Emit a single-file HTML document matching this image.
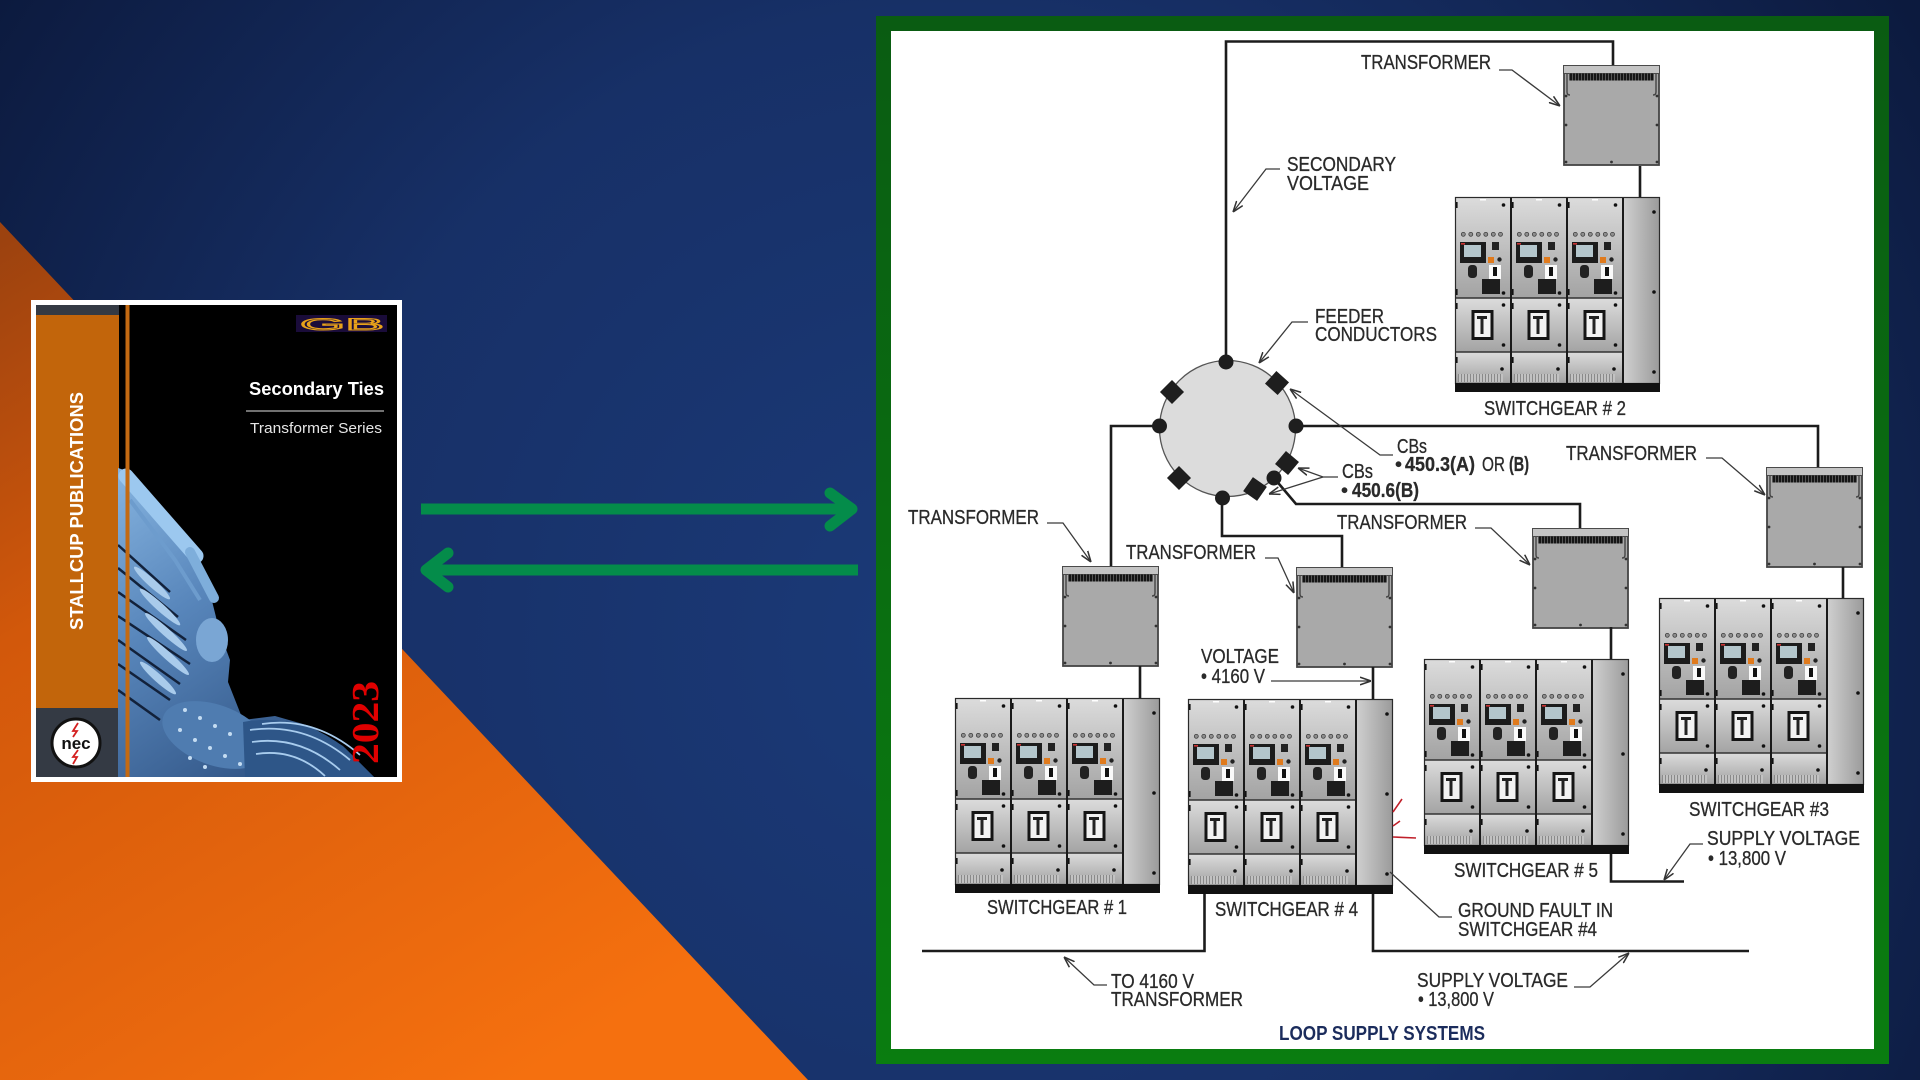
<!DOCTYPE html>
<html><head><meta charset="utf-8">
<style>
html,body{margin:0;padding:0;width:1920px;height:1080px;overflow:hidden;background:#142a5c}
svg{display:block}
text{font-family:"Liberation Sans",Arial,sans-serif}
.l{font-size:20px;fill:#2a2a2a;stroke:#2a2a2a;stroke-width:0.3}
</style></head><body>
<svg width="1920" height="1080" viewBox="0 0 1920 1080" xmlns="http://www.w3.org/2000/svg">
<defs>
 <radialGradient id="bg" cx="950" cy="640" r="1150" gradientUnits="userSpaceOnUse">
  <stop offset="0" stop-color="#1b3a78"/>
  <stop offset="0.55" stop-color="#173067"/>
  <stop offset="1" stop-color="#0c1a3e"/>
 </radialGradient>
 <linearGradient id="or" x1="0" y1="240" x2="520" y2="1080" gradientUnits="userSpaceOnUse">
  <stop offset="0" stop-color="#9c420f"/>
  <stop offset="0.35" stop-color="#d2580b"/>
  <stop offset="1" stop-color="#f5700f"/>
 </linearGradient>
 <linearGradient id="gf" x1="0" y1="0" x2="0" y2="1">
  <stop offset="0" stop-color="#0a5c12"/>
  <stop offset="1" stop-color="#0a7d10"/>
 </linearGradient>
 <linearGradient id="pg" x1="0" y1="0" x2="0" y2="1">
  <stop offset="0" stop-color="#dcdcdc"/>
  <stop offset="1" stop-color="#a3a3a3"/>
 </linearGradient>
 <linearGradient id="pr" x1="0" y1="0" x2="1" y2="0">
  <stop offset="0" stop-color="#d0d0d0"/>
  <stop offset="1" stop-color="#9a9a9a"/>
 </linearGradient>
 <linearGradient id="bl" x1="118" y1="470" x2="330" y2="777" gradientUnits="userSpaceOnUse">
  <stop offset="0" stop-color="#86b4e0"/>
  <stop offset="0.4" stop-color="#5886bb"/>
  <stop offset="1" stop-color="#2a4c7c"/>
 </linearGradient>
 <pattern id="vent" width="3" height="10" patternUnits="userSpaceOnUse">
  <rect width="3" height="10" fill="#c2c2c2"/><rect width="1" height="10" fill="#8a8a8a"/>
 </pattern>
 <pattern id="tv" width="3" height="8" patternUnits="userSpaceOnUse">
  <rect width="3" height="8" fill="#151515"/><rect width="1" height="8" fill="#555"/>
 </pattern>
 <marker id="ah" viewBox="0 0 10 8" refX="10" refY="4" markerWidth="11" markerHeight="9" markerUnits="userSpaceOnUse" orient="auto">
  <path d="M0,0.5 L10,4 L0,7.5" fill="none" stroke="#333" stroke-width="1.4"/>
 </marker>

 <g id="sec">
  <rect x="0" y="0" width="56" height="101" fill="url(#pg)"/>
  <rect x="0" y="101" width="56" height="54" fill="url(#pg)"/>
  <rect x="0" y="155" width="56" height="31" fill="url(#pg)"/>
  <path d="M0,101H56M0,155H56" stroke="#333" stroke-width="1.5"/>
  <rect x="25" y="2" width="6" height="1.5" fill="#fff"/>
  <g fill="#111">
   <circle cx="48.5" cy="8" r="1.8"/><circle cx="48.5" cy="96" r="1.8"/>
   <circle cx="48.5" cy="108" r="1.8"/><circle cx="48.5" cy="148" r="1.8"/>
   <circle cx="47" cy="172" r="1.8"/>
   <rect x="1" y="5" width="1.6" height="6"/><rect x="1" y="92" width="1.6" height="6"/>
   <rect x="1" y="106" width="1.6" height="6"/><rect x="1" y="160" width="1.6" height="6"/>
  </g>
  <g fill="#8e8e8e" stroke="#333" stroke-width="0.7">
   <circle cx="8.3" cy="37.3" r="2"/><circle cx="15.8" cy="37.3" r="2"/><circle cx="23.3" cy="37.3" r="2"/>
   <circle cx="30.8" cy="37.3" r="2"/><circle cx="38.3" cy="37.3" r="2"/><circle cx="45.5" cy="37.3" r="2"/>
  </g>
  <rect x="5" y="45" width="26" height="21" fill="#1c1c1c"/>
  <rect x="9" y="48" width="17" height="12" fill="#b4c6cc"/>
  <rect x="6" y="46" width="4" height="1.6" fill="#c33"/>
  <rect x="37" y="45" width="7" height="8" fill="#222"/>
  <rect x="33" y="60" width="6" height="6" fill="#e07a1c"/>
  <circle cx="44.5" cy="62.5" r="2.2" fill="#222"/>
  <rect x="13" y="68" width="9" height="13" rx="3.5" fill="#222"/>
  <rect x="34" y="68" width="12" height="14" fill="#fafafa"/>
  <rect x="38" y="70" width="4" height="9" fill="#111"/>
  <rect x="27" y="82" width="18" height="15" fill="#1d1d1d"/>
  <rect x="16.5" y="113" width="22" height="30" fill="#151515"/>
  <rect x="19.5" y="116" width="16" height="24" fill="#f2f2f2"/>
  <path d="M22,119h10v3h-3.5v15h-3v-15h-3.5z" fill="#222"/>
  <rect x="3" y="177" width="45" height="8" fill="url(#vent)"/>
 </g>

 <g id="sg">
  <use href="#sec" x="0" y="0"/>
  <use href="#sec" x="56" y="0"/>
  <use href="#sec" x="112" y="0"/>
  <rect x="168" y="0" width="37" height="187" fill="url(#pr)"/>
  <g fill="#111">
   <circle cx="199" cy="15" r="1.8"/><circle cx="199" cy="95" r="1.8"/><circle cx="199" cy="175" r="1.8"/>
  </g>
  <path d="M56,0V186M112,0V186M168,0V186" stroke="#1a1a1a" stroke-width="2"/>
  <rect x="0.5" y="0.5" width="204" height="186" fill="none" stroke="#2a2a2a" stroke-width="1.2"/>
  <rect x="0" y="186" width="205" height="9" fill="#111"/>
 </g>

 <g id="tr">
  <rect x="1" y="6" width="95" height="94" fill="#a9a9a9" stroke="#444" stroke-width="1.8"/>
  <rect x="0.5" y="0.5" width="96" height="8" fill="#c4c4c4" stroke="#4a4a4a" stroke-width="1"/>
  <rect x="6" y="8.5" width="85" height="7" fill="url(#tv)"/>
  <path d="M4,9V27Q4,30 7,30M93,9V27Q93,30 90,30" stroke="#444" stroke-width="1.4" fill="none"/>
  <g fill="#333">
   <circle cx="3" cy="31" r="1.4"/><circle cx="3" cy="60" r="1.4"/><circle cx="3" cy="97" r="1.4"/>
   <circle cx="94" cy="31" r="1.4"/><circle cx="94" cy="60" r="1.4"/><circle cx="94" cy="97" r="1.4"/>
   <circle cx="48.5" cy="97" r="1.4"/>
  </g>
 </g>
</defs>

<!-- background -->
<rect width="1920" height="1080" fill="url(#bg)"/>
<polygon points="0,222 808,1080 0,1080" fill="url(#or)"/>

<!-- green arrows -->
<g stroke="#048c4a" stroke-width="11" fill="none">
 <path d="M421,509H852"/>
 <path d="M830,493L852,509L830,526" stroke-linecap="round" stroke-linejoin="round"/>
 <path d="M858,570H426"/>
 <path d="M448,553L426,570L448,587" stroke-linecap="round" stroke-linejoin="round"/>
</g>

<!-- cover -->
<rect x="31" y="300" width="371" height="482" fill="#ffffff"/>
<rect x="36" y="305" width="361" height="472" fill="#000"/>
<rect x="36" y="305" width="83" height="472" fill="#343a44"/>
<rect x="36" y="315" width="83" height="393" fill="#c2650b"/>
<clipPath id="cc"><rect x="118" y="305" width="279" height="472"/></clipPath>
<g clip-path="url(#cc)">
 <polygon points="118,468 130,472 160,508 182,537 210,593 220,633 230,660 228,682 243,720 275,716 310,726 343,746 374,777 118,777" fill="url(#bl)"/>
 <!-- tubes -->
 <path d="M126,476 L196,556" stroke="#9cc8ef" stroke-width="15" stroke-linecap="round"/>
 <path d="M190,552 L214,598" stroke="#7eaedb" stroke-width="10" stroke-linecap="round"/>
 <path d="M130,500 L175,560 L200,600" stroke="#6d9ccd" stroke-width="4" fill="none"/>
 <!-- fins -->
 <g stroke="#12213a" stroke-width="2.5" fill="none">
  <path d="M118,545 L170,592"/><path d="M118,568 L178,617"/><path d="M118,592 L186,640"/>
  <path d="M118,616 L190,664"/><path d="M118,640 L180,684"/><path d="M118,664 L170,700"/>
  <path d="M118,690 L160,720"/>
 </g>
 <g fill="#a9cbeb">
  <ellipse cx="152" cy="583" rx="24" ry="4" transform="rotate(42 152 583)"/>
  <ellipse cx="160" cy="607" rx="27" ry="4" transform="rotate(42 160 607)"/>
  <ellipse cx="166" cy="632" rx="28" ry="4" transform="rotate(42 166 632)"/>
  <ellipse cx="168" cy="656" rx="28" ry="4" transform="rotate(42 168 656)"/>
  <ellipse cx="158" cy="678" rx="24" ry="4" transform="rotate(42 158 678)"/>
 </g>
 <ellipse cx="212" cy="640" rx="16" ry="22" fill="#7aa6d4"/>
 <!-- studded band -->
 <ellipse cx="215" cy="735" rx="55" ry="30" transform="rotate(20 215 735)" fill="#4f7cb0"/>
 <g fill="#c4dcf2">
  <circle cx="185" cy="710" r="2"/><circle cx="200" cy="718" r="2"/><circle cx="215" cy="726" r="2"/>
  <circle cx="230" cy="734" r="2"/><circle cx="180" cy="730" r="2"/><circle cx="195" cy="740" r="2"/>
  <circle cx="210" cy="748" r="2"/><circle cx="225" cy="756" r="2"/><circle cx="240" cy="764" r="2"/>
  <circle cx="190" cy="758" r="2"/><circle cx="205" cy="767" r="2"/>
 </g>
 <!-- cables -->
 <path d="M243,722 Q300,712 345,748 L374,777 L245,777 Z" fill="#2e5688"/>
 <g stroke="#a8ccee" stroke-width="1.8" fill="none">
  <path d="M250,730 Q305,722 350,760"/><path d="M252,742 Q300,735 340,770"/>
  <path d="M256,754 Q295,748 325,776"/><path d="M262,724 Q315,716 360,755"/>
 </g>
</g>
<rect x="125.5" y="305" width="4" height="472" fill="#c46a12"/>
<!-- GB logo -->
<rect x="296" y="315" width="91" height="17" fill="#1a0c3a"/>
<text x="300" y="330" font-size="17" textLength="84" lengthAdjust="spacingAndGlyphs" fill="none" stroke="#e8a21a" stroke-width="1">GB</text>
<text x="384" y="395" font-size="18.5" font-weight="bold" fill="#fff" text-anchor="end" textLength="135" lengthAdjust="spacingAndGlyphs">Secondary Ties</text>
<line x1="246" y1="411" x2="384" y2="411" stroke="#b5b5b5" stroke-width="1.3"/>
<text x="382" y="433" font-size="14.5" fill="#e6e6e6" text-anchor="end" textLength="132" lengthAdjust="spacingAndGlyphs">Transformer Series</text>
<text transform="translate(83,630) rotate(-90)" font-size="18" font-weight="bold" fill="#fff" textLength="238" lengthAdjust="spacingAndGlyphs">STALLCUP PUBLICATIONS</text>
<text transform="translate(378,764) rotate(-90)" font-size="38" font-weight="bold" fill="#e00000" textLength="83" lengthAdjust="spacingAndGlyphs" style="font-family:'Liberation Serif',serif">2023</text>
<!-- nec logo -->
<circle cx="76" cy="743" r="24" fill="#fff" stroke="#111" stroke-width="3"/>
<text x="76" y="749" font-size="17" fill="#111" text-anchor="middle" font-weight="bold">nec</text>
<path d="M78,723 L73,731 L77,731 L73,737" stroke="#d42020" stroke-width="1.8" fill="none"/>
<path d="M78,750 L73,757 L77,757 L73,764" stroke="#d42020" stroke-width="1.8" fill="none"/>

<!-- diagram frame -->
<rect x="876" y="16" width="1013" height="1048" fill="url(#gf)"/>
<rect x="891" y="31" width="983" height="1018" fill="#ffffff"/>

<!-- equipment -->
<use href="#tr" x="1563" y="65"/>
<use href="#tr" x="1062" y="566"/>
<use href="#tr" x="1296" y="567"/>
<use href="#tr" x="1532" y="528"/>
<use href="#tr" x="1766" y="467"/>
<use href="#sg" x="1455" y="197"/>
<use href="#sg" x="955" y="698"/>
<use href="#sg" x="1188" y="699"/>
<use href="#sg" x="1424" y="659"/>
<use href="#sg" x="1659" y="598"/>

<!-- wires -->
<g stroke="#1c1c1c" stroke-width="2.6" fill="none">
 <path d="M1226,362V41.5H1613V65"/>
 <path d="M1159,426H1111V566"/>
 <path d="M1296,426H1818V467"/>
 <path d="M1222,498V536H1342V567"/>
 <path d="M1274,478L1296,504H1580V528"/>
 <path d="M1640,166V197"/>
 <path d="M1140,666V698"/>
 <path d="M1373,667V699"/>
 <path d="M1611,627V659"/>
 <path d="M1843,567V598"/>
 <path d="M1204.5,894V951H922"/>
 <path d="M1373,894V951H1749"/>
 <path d="M1611,854V881.5H1684"/>
</g>

<!-- ring bus -->
<circle cx="1227.5" cy="428.5" r="68" fill="#dcdcdc" stroke="#555" stroke-width="1.3"/>
<g fill="#1e1e1e">
 <circle cx="1226" cy="362" r="7.5"/>
 <circle cx="1159.5" cy="426" r="7.5"/>
 <circle cx="1296" cy="426" r="7.5"/>
 <circle cx="1222.5" cy="498" r="7.5"/>
 <circle cx="1274" cy="478" r="7.5"/>
 <rect x="-8.5" y="-8.5" width="17" height="17" transform="translate(1172,392) rotate(45)"/>
 <rect x="-8.5" y="-8.5" width="17" height="17" transform="translate(1277,383) rotate(42)"/>
 <rect x="-8.5" y="-8.5" width="17" height="17" transform="translate(1287,463) rotate(40)"/>
 <rect x="-8.5" y="-8.5" width="17" height="17" transform="translate(1255,489) rotate(35)"/>
 <rect x="-8.5" y="-8.5" width="17" height="17" transform="translate(1179,478) rotate(45)"/>
</g>

<!-- red fault marks -->
<path d="M1393,812L1402,799M1393,837L1416,838M1393,826L1400,821" stroke="#c0202a" stroke-width="1.6" fill="none"/>

<!-- leaders -->
<g stroke="#3a3a3a" stroke-width="1.3" fill="none">
 <polyline points="1499,70 1512,70 1560,106" marker-end="url(#ah)"/>
 <polyline points="1280,169 1266,169 1233,212" marker-end="url(#ah)"/>
 <polyline points="1308,322 1292,322 1259,363" marker-end="url(#ah)"/>
 <polyline points="1393,455 1380,455 1290,389" marker-end="url(#ah)"/>
 <polyline points="1338,477 1323,477 1298,468" marker-end="url(#ah)"/>
 <polyline points="1323,477 1269,494" marker-end="url(#ah)"/>
 <polyline points="1706,458 1722,458 1765,495" marker-end="url(#ah)"/>
 <polyline points="1047,523 1063,523 1091,562" marker-end="url(#ah)"/>
 <polyline points="1265,558 1278,558 1294,593" marker-end="url(#ah)"/>
 <polyline points="1475,528 1491,528 1530,565" marker-end="url(#ah)"/>
 <polyline points="1271,681 1371,681" marker-end="url(#ah)"/>
 <polyline points="1703,844 1690,844 1664,880" marker-end="url(#ah)"/>
 <polyline points="1452,917 1439,917 1390,872"/>
 <polyline points="1107,985 1094,985 1064,957" marker-end="url(#ah)"/>
 <polyline points="1574,987 1590,987 1629,953" marker-end="url(#ah)"/>
</g>

<!-- labels -->
<g>
 <text class="l" x="1361" y="69" textLength="130" lengthAdjust="spacingAndGlyphs">TRANSFORMER</text>
 <text class="l" x="1287" y="171" textLength="109" lengthAdjust="spacingAndGlyphs">SECONDARY</text>
 <text class="l" x="1287" y="190" textLength="82" lengthAdjust="spacingAndGlyphs">VOLTAGE</text>
 <text class="l" x="1315" y="323" textLength="69" lengthAdjust="spacingAndGlyphs">FEEDER</text>
 <text class="l" x="1315" y="341" textLength="122" lengthAdjust="spacingAndGlyphs">CONDUCTORS</text>
 <text class="l" x="1484" y="415" textLength="142" lengthAdjust="spacingAndGlyphs">SWITCHGEAR # 2</text>
 <text class="l" x="1397" y="453" textLength="30" lengthAdjust="spacingAndGlyphs">CBs</text>
 <text class="l" x="1395" y="471">•</text>
 <text class="l" x="1405" y="471" font-weight="bold" textLength="70" lengthAdjust="spacingAndGlyphs">450.3(A)</text>
 <text class="l" x="1482" y="471" textLength="23" lengthAdjust="spacingAndGlyphs">OR</text>
 <text class="l" x="1509" y="471" font-weight="bold" textLength="20" lengthAdjust="spacingAndGlyphs">(B)</text>
 <text class="l" x="1342" y="478" textLength="31" lengthAdjust="spacingAndGlyphs">CBs</text>
 <text class="l" x="1341" y="497">•</text>
 <text class="l" x="1352" y="497" font-weight="bold" textLength="67" lengthAdjust="spacingAndGlyphs">450.6(B)</text>
 <text class="l" x="1566" y="460" textLength="131" lengthAdjust="spacingAndGlyphs">TRANSFORMER</text>
 <text class="l" x="908" y="524" textLength="131" lengthAdjust="spacingAndGlyphs">TRANSFORMER</text>
 <text class="l" x="1337" y="529" textLength="130" lengthAdjust="spacingAndGlyphs">TRANSFORMER</text>
 <text class="l" x="1126" y="559" textLength="130" lengthAdjust="spacingAndGlyphs">TRANSFORMER</text>
 <text class="l" x="1201" y="663" textLength="78" lengthAdjust="spacingAndGlyphs">VOLTAGE</text>
 <text class="l" x="1201" y="683" textLength="64" lengthAdjust="spacingAndGlyphs">• 4160 V</text>
 <text class="l" x="987" y="914" textLength="140" lengthAdjust="spacingAndGlyphs">SWITCHGEAR # 1</text>
 <text class="l" x="1215" y="916" textLength="143" lengthAdjust="spacingAndGlyphs">SWITCHGEAR # 4</text>
 <text class="l" x="1454" y="877" textLength="144" lengthAdjust="spacingAndGlyphs">SWITCHGEAR # 5</text>
 <text class="l" x="1689" y="816" textLength="140" lengthAdjust="spacingAndGlyphs">SWITCHGEAR #3</text>
 <text class="l" x="1707" y="845" textLength="153" lengthAdjust="spacingAndGlyphs">SUPPLY VOLTAGE</text>
 <text class="l" x="1708" y="865" textLength="78" lengthAdjust="spacingAndGlyphs">• 13,800 V</text>
 <text class="l" x="1458" y="917" textLength="155" lengthAdjust="spacingAndGlyphs">GROUND FAULT IN</text>
 <text class="l" x="1458" y="936" textLength="139" lengthAdjust="spacingAndGlyphs">SWITCHGEAR #4</text>
 <text class="l" x="1417" y="987" textLength="151" lengthAdjust="spacingAndGlyphs">SUPPLY VOLTAGE</text>
 <text class="l" x="1418" y="1006" textLength="76" lengthAdjust="spacingAndGlyphs">• 13,800 V</text>
 <text class="l" x="1111" y="988" textLength="83" lengthAdjust="spacingAndGlyphs">TO 4160 V</text>
 <text class="l" x="1111" y="1006" textLength="132" lengthAdjust="spacingAndGlyphs">TRANSFORMER</text>
 <text x="1279" y="1040" font-size="20" font-weight="bold" fill="#1b2c5c" textLength="206" lengthAdjust="spacingAndGlyphs">LOOP SUPPLY SYSTEMS</text>
</g>
</svg>
</body></html>
